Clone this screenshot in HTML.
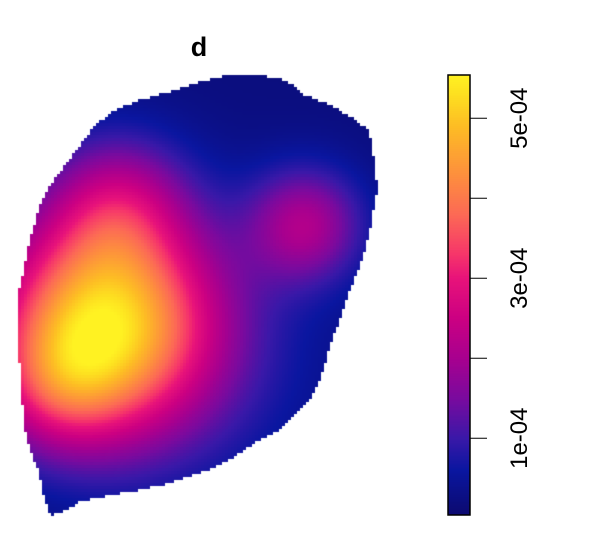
<!DOCTYPE html>
<html><head><meta charset="utf-8">
<style>
html,body{margin:0;padding:0;background:#fff;}
#wrap{position:relative;width:600px;height:560px;overflow:hidden;font-family:"Liberation Sans",sans-serif;}
canvas{position:absolute;left:0;top:0;}
svg{position:absolute;left:0;top:0;}
</style></head>
<body>
<div id="wrap">
<canvas id="c" width="600" height="560"></canvas>
<svg id="s" width="600" height="560">
<text x="199" y="56" font-size="27" font-weight="bold" text-anchor="middle" font-family="Liberation Sans, sans-serif">d</text>
<g id="legend"></g>
</svg>
</div>
<script>
// Kernel components (density in units of 1e-4)
const kernelX = [105, 118, 60, 305, 205];
const kernelY = [325, 205, 385, 225, 360];
const kernelAmp = [4.9, 1.5, 1.3, 1.8, 0.4];
const kernelSigma = [76, 48, 45, 40, 95];
const baseLevel = 0.2;
// Colorbar data
const legendMin = 0.04, legendMax = 5.54;
const tickValues = [1, 2, 3, 4, 5];
const tickLabels = ["1e-04", "", "3e-04", "", "5e-04"];
// Window outline (map coordinates)
const outlineX = [230,278,290,305,330,355,368,372,378,375,370,362,350,340,330,322,310,295,280,260,240,220,195,170,140,110,80,60,50,45,38,30,25,22,18,18,22,30,40,50,65,80,95,115,140,175,200,225];
const outlineY = [75,77,83,95,105,120,130,145,190,200,230,260,290,320,345,375,400,415,430,440,453,465,475,483,490,495,502,513,515,500,470,450,430,400,340,295,280,240,205,185,165,145,125,110,100,90,82,76];

const stopsV = [0.04, 0.6, 1.0, 1.5, 2.0, 2.5, 3.0, 3.3, 3.8, 4.3, 4.9, 5.3, 5.54];
const stopsC = ["#0c0a70","#0a16a0","#3a18a8","#7a0a9e","#a8008f","#cc0082","#e8137a","#f6366a","#fc6a55","#fd903d","#fdbd24","#fde020","#fff222"];
function hex(h){return [parseInt(h.slice(1,3),16),parseInt(h.slice(3,5),16),parseInt(h.slice(5,7),16)];}
function color(v){
  if(v<=stopsV[0]) return hex(stopsC[0]);
  for(let i=1;i<stopsV.length;i++){
    if(v<=stopsV[i]){const t=(v-stopsV[i-1])/(stopsV[i]-stopsV[i-1]);const a=hex(stopsC[i-1]),b=hex(stopsC[i]);return [0,1,2].map(k=>Math.round(a[k]+(b[k]-a[k])*t));}
  }
  return hex(stopsC[stopsC.length-1]);
}
function density(x,y){
  let v=baseLevel;
  for(let i=0;i<kernelX.length;i++){
    const dx=x-kernelX[i],dy=y-kernelY[i],s=kernelSigma[i];
    v+=kernelAmp[i]*Math.exp(-(dx*dx+dy*dy)/(2*s*s));
  }
  return v;
}
const cv=document.getElementById('c');const ctx=cv.getContext('2d');
const path=new Path2D();
for(let i=0;i<outlineX.length;i++){ if(i===0) path.moveTo(outlineX[i],outlineY[i]); else path.lineTo(outlineX[i],outlineY[i]); }
path.closePath();
const cell=3;
for(let y=72;y<520;y+=cell){for(let x=15;x<382;x+=cell){
  if(!ctx.isPointInPath(path,x+1.5,y+1.5)) continue;
  const c=color(density(x+1.5,y+1.5));
  ctx.fillStyle=`rgb(${c[0]},${c[1]},${c[2]})`;ctx.fillRect(x,y,cell,cell);
}}
// colorbar
const barX=448,barW=22,barTop=75,barBot=515;
function yScale(v){return barBot-(v-legendMin)/(legendMax-legendMin)*(barBot-barTop);}
for(let y=barTop;y<barBot;y++){
  const v=legendMin+(barBot-y-0.5)/(barBot-barTop)*(legendMax-legendMin);
  const c=color(v);ctx.fillStyle=`rgb(${c[0]},${c[1]},${c[2]})`;ctx.fillRect(barX,y,barW,1);
}
const NS="http://www.w3.org/2000/svg";
const g=document.getElementById('legend');
const frame=document.createElementNS(NS,'rect');


frame.setAttribute('x',barX);frame.setAttribute('y',barTop);frame.setAttribute('width',barW);frame.setAttribute('height',barBot-barTop);
frame.setAttribute('fill','none');frame.setAttribute('stroke','#000');frame.setAttribute('stroke-width','1.5');
g.appendChild(frame);
tickValues.forEach((v,i)=>{
  const y=yScale(v);
  const t=document.createElementNS(NS,'line');
  
  
  t.setAttribute('x1',barX+barW);t.setAttribute('x2',barX+barW+17);t.setAttribute('y1',y);t.setAttribute('y2',y);
  t.setAttribute('stroke','#000');t.setAttribute('stroke-width','1');
  g.appendChild(t);
  if(tickLabels[i]){
    const tx=document.createElementNS(NS,'text');
    
    
    tx.setAttribute('transform',`translate(527,${y}) rotate(-90)`);
    tx.setAttribute('text-anchor','middle');tx.setAttribute('font-size','24');
    tx.setAttribute('font-family','Liberation Sans, sans-serif');
    tx.textContent=tickLabels[i];g.appendChild(tx);
  }
});
</script>
</body></html>
